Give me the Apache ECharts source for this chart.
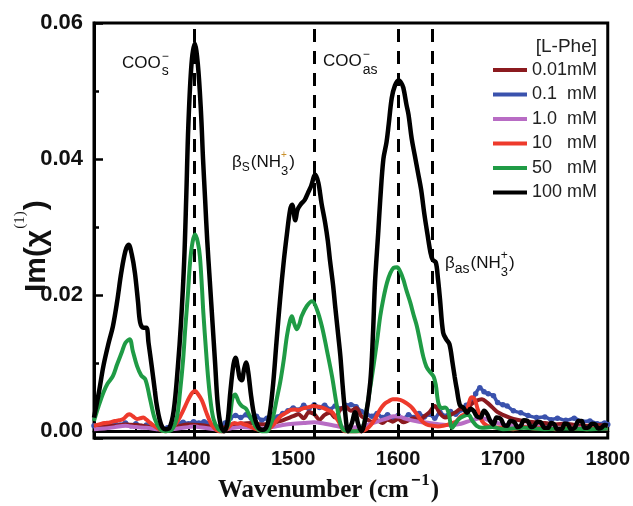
<!DOCTYPE html>
<html><head><meta charset="utf-8">
<script src="https://cdn.jsdelivr.net/npm/echarts@6/dist/echarts.min.js"></script>
<style>html,body{margin:0;padding:0;background:#fff}#c{width:633px;height:506px}</style>
</head><body><div id="c"></div>
<script>
// ---------- data ----------
const seriesNames = ['0.01mM', '0.1  mM', '1.0  mM', '10   mM', '50   mM', '100 mM'];
const seriesColors = ['#8b1a1f', '#3a52ad', '#b86cc4', '#ee3a2c', '#1f9b45', '#000000'];

const wn001 = [1310,1320,1330,1340,1350,1360,1370,1380,1390,1400,1410,1420,1430,1440,1450,1460,1470,1480,1490,1500,1505,1510,1515,1520,1525,1530,1535,1540,1545,1550,1555,1560,1565,1570,1575,1580,1585,1590,1595,1600,1605,1610,1615,1620,1625,1630,1635,1640,1645,1650,1655,1660,1665,1670,1675,1680,1685,1690,1695,1700,1710,1720,1730,1740,1750,1760,1770,1780,1790,1800];
const im001 = [0.0005,0.0007,0.0008,0.0010,0.0009,0.0007,0.0004,0.0003,0.0007,0.0010,0.0009,0.0007,0.0004,0.0009,0.0011,0.0012,0.0010,0.0012,0.0016,0.0022,0.0025,0.0019,0.0028,0.0025,0.0017,0.0024,0.0027,0.0020,0.0032,0.0036,0.0030,0.0034,0.0022,0.0018,0.0014,0.0016,0.0012,0.0017,0.0014,0.0018,0.0013,0.0016,0.0019,0.0015,0.0022,0.0028,0.0037,0.0026,0.0020,0.0024,0.0028,0.0033,0.0031,0.0040,0.0045,0.0047,0.0042,0.0035,0.0028,0.0024,0.0018,0.0015,0.0013,0.0012,0.0010,0.0011,0.0009,0.0008,0.0009,0.0007];

const wn01 = [1310,1315,1320,1325,1330,1335,1340,1345,1350,1355,1360,1365,1370,1375,1380,1385,1390,1395,1400,1405,1410,1415,1420,1425,1430,1435,1440,1445,1450,1455,1460,1465,1470,1475,1480,1485,1490,1495,1500,1505,1510,1515,1520,1525,1530,1535,1540,1545,1550,1555,1560,1565,1570,1575,1580,1585,1590,1595,1600,1605,1610,1615,1620,1625,1630,1635,1640,1645,1650,1655,1660,1665,1670,1674,1678,1682,1686,1691,1695,1700,1704,1710,1717,1724,1732,1740,1746,1752,1760,1768,1776,1783,1790,1797,1800];
const im01 = [0.0008,0.0006,0.0010,0.0007,0.0011,0.0009,0.0012,0.0008,0.0011,0.0007,0.0009,0.0006,0.0004,0.0003,0.0005,0.0008,0.0011,0.0013,0.0011,0.0014,0.0012,0.0014,0.0011,0.0008,0.0006,0.0012,0.0019,0.0023,0.0020,0.0024,0.0019,0.0022,0.0016,0.0019,0.0014,0.0021,0.0026,0.0030,0.0034,0.0031,0.0038,0.0033,0.0039,0.0035,0.0038,0.0032,0.0037,0.0033,0.0038,0.0039,0.0036,0.0029,0.0025,0.0022,0.0026,0.0020,0.0024,0.0019,0.0023,0.0018,0.0024,0.0020,0.0026,0.0021,0.0025,0.0019,0.0028,0.0022,0.0029,0.0025,0.0031,0.0038,0.0045,0.0055,0.0064,0.0058,0.0055,0.0052,0.0042,0.0039,0.0037,0.0030,0.0027,0.0023,0.0020,0.0021,0.0017,0.0019,0.0016,0.0019,0.0014,0.0015,0.0011,0.0012,0.0010];

const wn1 = [1310,1320,1330,1340,1345,1350,1360,1370,1380,1390,1400,1405,1410,1420,1430,1440,1450,1460,1470,1480,1490,1500,1510,1520,1530,1540,1550,1560,1570,1580,1590,1596,1602,1610,1620,1630,1640,1650,1660,1670,1680,1690,1700,1710,1720,1740,1760,1780,1800];
const im1 = [0.0003,0.0004,0.0006,0.0008,0.0007,0.0006,0.0005,0.0003,0.0002,0.0004,0.0006,0.0007,0.0006,0.0004,0.0002,0.0004,0.0006,0.0005,0.0004,0.0006,0.0009,0.0011,0.0012,0.0013,0.0011,0.0008,0.0005,0.0006,0.0009,0.0014,0.0019,0.0022,0.0021,0.0017,0.0014,0.0012,0.0010,0.0009,0.0011,0.0016,0.0019,0.0014,0.0010,0.0008,0.0007,0.0006,0.0005,0.0005,0.0004];

const wn10 = [1310,1315,1320,1325,1330,1334,1338,1342,1344,1347,1351,1354,1357,1360,1363,1367,1371,1375,1379,1384,1389,1393,1397,1401,1404,1406.5,1409,1413,1417,1421,1425,1429,1434,1438,1441,1444,1447,1450,1453,1456,1460,1465,1470,1475,1479,1483,1488,1493,1497,1501,1505,1510,1514,1519,1524,1529,1533,1537,1540,1543,1546,1549,1555,1560,1565,1570,1574,1578,1583,1587,1591,1595,1599,1602,1605,1609,1613,1617,1621,1625,1629,1633,1638,1643,1648,1652,1656,1660,1664,1667,1670,1673,1676,1680,1685,1690,1700,1710,1720,1730,1740,1750,1760,1770,1780,1790,1800];
const im10 = [0.0008,0.0010,0.0012,0.0013,0.0015,0.0016,0.0018,0.0024,0.0025,0.0022,0.0018,0.0019,0.0020,0.0017,0.0013,0.0008,0.0004,0.0001,0.0000,0.0004,0.0013,0.0024,0.0037,0.0050,0.0057,0.0059,0.0055,0.0045,0.0028,0.0013,0.0004,0.0000,0.0000,0.0005,0.0010,0.0012,0.0011,0.0012,0.0010,0.0009,0.0006,0.0003,0.0001,0.0002,0.0006,0.0013,0.0022,0.0027,0.0031,0.0032,0.0031,0.0034,0.0035,0.0037,0.0036,0.0034,0.0031,0.0028,0.0022,0.0015,0.0006,0.0000,0.0000,0.0000,0.0000,0.0003,0.0009,0.0018,0.0032,0.0040,0.0044,0.0047,0.0047,0.0046,0.0044,0.0040,0.0035,0.0027,0.0018,0.0012,0.0009,0.0008,0.0007,0.0008,0.0010,0.0012,0.0015,0.0022,0.0026,0.0038,0.0050,0.0047,0.0032,0.0015,0.0008,0.0006,0.0005,0.0003,0.0006,0.0004,0.0005,0.0003,0.0005,0.0004,0.0003,0.0005,0.0004];

const wn50 = [1310,1314,1319,1323,1328,1332,1336.5,1340,1344,1347,1351,1355,1359,1363.5,1368,1373,1378,1384,1389,1392,1395,1397,1399.5,1401.6,1404,1406.4,1409,1411,1413,1414.3,1417,1419,1421.5,1424,1428,1432,1437,1440,1442,1444.6,1448,1451,1455,1458,1461,1465,1470,1475,1478,1481,1484,1487.6,1491,1494,1497,1498.7,1501,1503.5,1506,1508,1513,1518,1522.6,1527.4,1532,1537,1541.7,1546.5,1552,1560,1566,1570,1573,1576.6,1580,1583,1586,1589.4,1592.5,1595.7,1599,1602,1605,1608,1611.7,1615,1618,1621,1624,1627,1631,1634,1636,1638.7,1642,1645,1648,1651.5,1655,1658,1662.5,1667,1671,1675,1680,1690,1700,1720,1740,1760,1780,1800];
const im50 = [0.0015,0.0035,0.0057,0.0070,0.0081,0.0098,0.0116,0.0130,0.0135,0.0118,0.0096,0.0082,0.0076,0.0047,0.0018,0.0003,0.0000,0.0002,0.0020,0.0057,0.0105,0.0150,0.0200,0.0248,0.0278,0.0289,0.0278,0.0257,0.0210,0.0174,0.0115,0.0076,0.0040,0.0018,0.0004,0.0000,0.0006,0.0025,0.0048,0.0054,0.0043,0.0037,0.0033,0.0024,0.0016,0.0005,0.0000,0.0000,0.0008,0.0022,0.0045,0.0072,0.0105,0.0140,0.0163,0.0169,0.0158,0.0150,0.0158,0.0169,0.0184,0.0191,0.0179,0.0154,0.0120,0.0081,0.0037,0.0005,0.0000,0.0000,0.0005,0.0032,0.0060,0.0096,0.0133,0.0169,0.0195,0.0218,0.0232,0.0240,0.0241,0.0235,0.0223,0.0207,0.0189,0.0170,0.0154,0.0132,0.0110,0.0095,0.0086,0.0080,0.0068,0.0040,0.0034,0.0035,0.0028,0.0005,0.0012,0.0018,0.0022,0.0024,0.0015,0.0008,0.0005,0.0006,0.0003,0.0005,0.0003,0.0004,0.0003,0.0004];

const wn100 = [1310,1315,1319,1324,1328,1332,1336,1340,1343,1346,1349,1352,1354,1357,1360,1362,1365,1368,1370,1374,1378,1382,1386,1390,1393,1396,1398,1400,1403,1406,1409,1412,1414,1416,1418,1420.5,1423,1425.5,1428,1431,1434,1437,1440,1443,1445,1447,1449,1451,1453,1455,1457,1460,1463,1467,1471,1475,1478,1481,1484,1487.5,1491,1494,1497,1499,1502,1504,1507,1511,1514,1517,1521,1524,1527,1530.5,1533,1535,1538,1540,1543,1545,1547,1549.5,1552.5,1556,1559,1562,1565,1569,1573.5,1576,1578,1581,1583,1586,1589,1591,1594,1597,1600.5,1603,1605,1608,1610,1613,1616,1619,1622,1625,1628,1631,1633,1636,1638,1640,1643,1646,1649,1652,1654,1656,1659,1662,1666,1669,1672,1675,1678.5,1682,1685,1688,1691,1694,1698,1701,1704,1707,1711,1714,1717,1720,1723.5,1727,1730,1733,1736,1740,1743,1746,1749,1752,1756,1759,1762,1765,1768.5,1772,1775,1778,1781,1785,1788,1791,1794,1797,1800];
const im100 = [0.0020,0.0060,0.0096,0.0130,0.0154,0.0190,0.0233,0.0265,0.0274,0.0260,0.0233,0.0190,0.0160,0.0152,0.0152,0.0130,0.0096,0.0060,0.0037,0.0010,0.0003,0.0005,0.0030,0.0095,0.0160,0.0250,0.0345,0.0450,0.0540,0.0570,0.0540,0.0470,0.0400,0.0340,0.0280,0.0220,0.0160,0.0100,0.0040,0.0008,0.0000,0.0010,0.0057,0.0098,0.0108,0.0095,0.0078,0.0075,0.0090,0.0101,0.0088,0.0050,0.0022,0.0005,0.0002,0.0008,0.0030,0.0072,0.0130,0.0194,0.0250,0.0290,0.0325,0.0333,0.0310,0.0325,0.0333,0.0340,0.0350,0.0360,0.0377,0.0365,0.0335,0.0306,0.0280,0.0252,0.0215,0.0184,0.0140,0.0110,0.0070,0.0028,0.0000,0.0012,0.0028,0.0010,0.0000,0.0020,0.0072,0.0140,0.0218,0.0290,0.0340,0.0400,0.0425,0.0450,0.0490,0.0508,0.0516,0.0512,0.0505,0.0480,0.0465,0.0430,0.0405,0.0380,0.0355,0.0320,0.0290,0.0262,0.0252,0.0248,0.0225,0.0194,0.0145,0.0135,0.0128,0.0100,0.0080,0.0062,0.0038,0.0035,0.0027,0.0033,0.0030,0.0022,0.0020,0.0030,0.0025,0.0015,0.0010,0.0020,0.0018,0.0009,0.0008,0.0015,0.0013,0.0006,0.0008,0.0016,0.0015,0.0006,0.0008,0.0014,0.0013,0.0005,0.0005,0.0012,0.0010,0.0003,0.0003,0.0011,0.0010,0.0003,0.0005,0.0015,0.0015,0.0005,0.0005,0.0011,0.0010,0.0004,0.0005,0.0009,0.0008];

const bandPositions = [1406, 1520, 1600, 1633];

// ---------- helpers ----------
const zip = (xs, ys) => xs.map((x, i) => [x, ys[i]]);
const allX = [wn001, wn01, wn1, wn10, wn50, wn100];
const allY = [im001, im01, im1, im10, im50, im100];
const widths = [4, 3.5, 4, 4, 4, 4.5];
const zs = [3, 2, 4, 5, 6, 7];

const SANS = '"Liberation Sans", Arial, sans-serif';
const SERIF = '"Liberation Serif", "Times New Roman", serif';
const mctx = document.createElement('canvas').getContext('2d');
function fontOf(p) { return (p.bold ? 'bold ' : '') + p.size + 'px ' + (p.family || SANS); }
function tw(t, font) { mctx.font = font; return mctx.measureText(t).width; }
function runs(x0, yc, parts) {
  let x = x0, prevX = x0; const out = [];
  parts.forEach(p => {
    const font = fontOf(p);
    const px = p.stack ? prevX : x + (p.gap || 0);
    out.push({ type: 'text', silent: true, z: 100,
      style: { text: p.t, x: px, y: yc + (p.dy || 0), font: font, fill: p.color || '#111',
               textAlign: 'left', textVerticalAlign: 'middle' } });
    const w = tw(p.t, font);
    if (p.stack) { x = Math.max(x, px + w); } else { prevX = px; x = px + w; }
  });
  return out;
}

const series = seriesNames.map((name, i) => ({
  name: name, type: 'line', data: zip(allX[i], allY[i]),
  showSymbol: i === 1, symbol: 'circle', symbolSize: 5.5,
  smooth: 0.35, z: zs[i],
  itemStyle: { color: seriesColors[i] },
  lineStyle: { color: seriesColors[i], width: widths[i] },
  emphasis: { disabled: true }
}));
series[5].markLine = {
  silent: true, symbol: 'none', animation: false,
  label: { show: false },
  lineStyle: { color: '#000', width: 3, type: [13, 9] },
  data: bandPositions.map(v => ({ xAxis: v }))
};

const legTitle = { t: '[L-Phe]', size: 19, color: '#222' };
const graphics = [].concat(
  // annotations
  runs(122, 63, [{ t: 'COO', size: 17 }, { t: '\u2212', size: 12, dy: -6, gap: 1 }, { t: 's', size: 14, dy: 8, stack: true }]),
  runs(323, 61, [{ t: 'COO', size: 17 }, { t: '\u2212', size: 12, dy: -6, gap: 1 }, { t: 'as', size: 14, dy: 9, stack: true }]),
  runs(232, 162, [{ t: '\u03b2', size: 17 }, { t: 'S', size: 12, dy: 6 }, { t: '(NH', size: 17, gap: 1 }, { t: '+', size: 10, dy: -7, color: '#c9902a' }, { t: '3', size: 13, dy: 9, stack: true }, { t: ')', size: 17, gap: 1 }]),
  runs(445, 263, [{ t: '\u03b2', size: 17 }, { t: 'as', size: 14, dy: 6 }, { t: '(NH', size: 17, gap: 1 }, { t: '+', size: 12, dy: -7 }, { t: '3', size: 13, dy: 9, stack: true }, { t: ')', size: 17, gap: 1 }]),
  // legend title, right-aligned with the legend texts
  runs(597 - tw(legTitle.t, fontOf(legTitle)), 47, [legTitle]),
  // x axis title
  runs(218, 491, [{ t: 'Wavenumber (cm', size: 25, bold: true, family: SERIF },
                  { t: '\u2212', size: 16, bold: true, dy: -10, gap: 2 },
                  { t: '1', size: 17, bold: true, family: SERIF, dy: -10, gap: 1 },
                  { t: ')', size: 25, bold: true, family: SERIF, gap: 1 }]),
  // y axis title (rotated)
  [{ type: 'group', x: 48, y: 292, rotation: Math.PI / 2, silent: true,
     children: runs(0, -11, [{ t: 'Im(\u03c7', size: 30, bold: true },
                             { t: '(1)', size: 15, family: SERIF, dy: -17, gap: 1 },
                             { t: ')', size: 30, bold: true, gap: 1 }]) }]
);

const chart = echarts.init(document.getElementById('c'), null, { renderer: 'canvas' });
chart.setOption({
  animation: false,
  backgroundColor: '#fff',
  grid: { left: 94, right: 25, top: 23, bottom: 68, show: true, borderColor: '#000', borderWidth: 3, backgroundColor: 'transparent' },
  legend: {
    data: seriesNames, orient: 'vertical', left: 488, top: 56,
    icon: 'rect', itemWidth: 34, itemHeight: 4, itemGap: 6.5,
    textStyle: { fontSize: 18, fontFamily: SANS, color: '#222', lineHeight: 18 },
    selectedMode: false
  },
  xAxis: {
    type: 'value', min: 1310, max: 1800, splitNumber: 5,
    axisLine: { lineStyle: { color: '#000', width: 3 } },
    axisTick: { inside: true, length: 7, lineStyle: { color: '#000', width: 2 } },
    minorTick: { show: true, splitNumber: 2, length: 4, lineStyle: { color: '#000', width: 2 } },
    splitLine: { show: false },
    axisLabel: { fontSize: 20, fontWeight: 'bold', fontFamily: SANS, color: '#111', margin: 11,
                 formatter: v => (Math.abs(v % 100) < 1e-6 ? String(v) : '') }
  },
  yAxis: {
    type: 'value', min: -0.001, max: 0.06, splitNumber: 3,
    axisLine: { lineStyle: { color: '#000', width: 3 } },
    axisTick: { inside: true, length: 9, lineStyle: { color: '#000', width: 2.5 } },
    minorTick: { show: true, splitNumber: 2, length: 5, lineStyle: { color: '#000', width: 2.5 } },
    splitLine: { show: false },
    axisLabel: { fontSize: 22, fontWeight: 'bold', fontFamily: SANS, color: '#111', margin: 11,
                 formatter: v => { const r = v / 0.02; return Math.abs(r - Math.round(r)) < 1e-6 ? v.toFixed(2) : ''; } }
  },
  series: series,
  graphic: graphics
});
</script></body></html>
